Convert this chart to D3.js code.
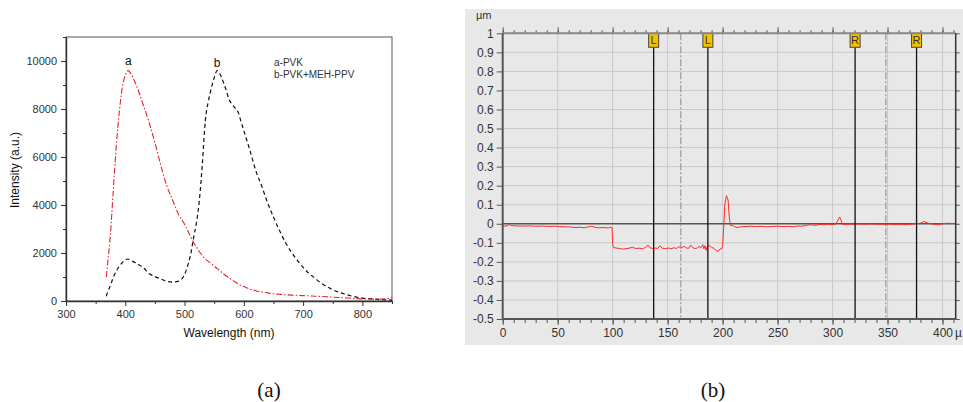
<!DOCTYPE html>
<html>
<head>
<meta charset="utf-8">
<script src="https://cdn.jsdelivr.net/npm/d3@7"></script>
<style>
  body { margin: 0; background: #fff; }
  svg { display: block; }
</style>
</head>
<body>
<svg id="chart"></svg>
<script>
/* ---- Panel (a): PL spectra ---- */
var wavelength = [368, 370, 375, 380, 385, 390, 395, 400, 405, 410, 415, 420, 430, 440, 450, 460, 470, 480, 490, 500,
    505, 510, 515, 520, 525, 530, 535, 540, 545, 550, 555, 560, 565, 570, 575, 580, 585, 590, 595, 600,
    610, 620, 630, 640, 650, 660, 670, 680, 690, 700, 710, 720, 730, 740, 750, 760, 770, 780, 790, 800,
    810, 820, 830, 840, 845, 850]
var pvk = [1000, 1500, 2800, 4700, 6500, 7900, 8900, 9400, 9600, 9450, 9200, 8900, 8200, 7450, 6600, 5650, 4800, 4200, 3600, 3200,
    2950, 2700, 2450, 2250, 2050, 1900, 1750, 1650, 1560, 1450, 1350, 1250, 1150, 1050, 960, 880, 800, 720, 650, 600,
    500, 430, 380, 340, 300, 280, 260, 245, 235, 225, 215, 200, 190, 175, 160, 145, 130, 115, 100, 90,
    85, 80, 80, 95, 110, 150]
var pvkMeh = [200, 350, 650, 1000, 1250, 1450, 1600, 1720, 1750, 1680, 1620, 1550, 1400, 1150, 1020, 920, 820, 790, 830, 1100,
    1450, 1900, 2600, 3250, 4200, 5700, 7500, 8300, 8850, 9300, 9600, 9450, 9150, 8800, 8400, 8200, 8050, 7900, 7500, 7100,
    6300, 5450, 4800, 4100, 3500, 2950, 2450, 2050, 1700, 1400, 1150, 950, 750, 600, 470, 370, 290, 220, 160, 120,
    95, 80, 65, 50, 45, 40]
var specXTicks = [300, 400, 500, 600, 700, 800]
var specXMinor = [350, 450, 550, 650, 750, 850]
var specYTicks = [0, 2000, 4000, 6000, 8000, 10000]
var specYMinor = [1000, 3000, 5000, 7000, 9000, 11000]
var specLegend = ["a-PVK", "b-PVK+MEH-PPV"]

/* ---- Panel (b): surface profile ---- */
var profileX = [0, 3, 6, 8, 12, 18, 25, 30, 36, 42, 48, 52, 58, 62, 66, 70, 74, 78, 81, 84,
    88, 92, 96, 98, 99.5, 100, 101, 104, 107, 110, 113, 116, 118, 121, 124, 127, 130, 132, 134, 137,
    139, 141, 143, 145, 148, 151, 153, 156, 158, 160, 162, 165, 167, 169, 171, 173, 175, 177, 179, 180,
    182, 183, 184, 185, 186, 188, 190, 192, 194, 196, 198, 199, 200, 201, 202, 203.5, 205, 206, 207, 209,
    211, 213, 215, 218, 222, 226, 230, 235, 240, 245, 250, 255, 260, 265, 268, 272, 276, 280, 284, 288,
    292, 296, 300, 303, 305, 306.5, 308, 309, 312, 316, 320, 324, 328, 332, 336, 340, 344, 348, 352, 356,
    360, 364, 368, 372, 376, 380, 383, 385, 388, 392, 396, 399, 402, 405, 408, 411]
var profileY = [-0.012, -0.012, -0.005, -0.010, -0.011, -0.012, -0.011, -0.013, -0.012, -0.014, -0.013, -0.015, -0.016, -0.017, -0.020, -0.018, -0.021, -0.016, -0.013, -0.019,
    -0.021, -0.020, -0.022, -0.018, -0.020, -0.110, -0.125, -0.128, -0.131, -0.133, -0.130, -0.127, -0.123, -0.130, -0.128, -0.132, -0.124, -0.112, -0.126, -0.131,
    -0.127, -0.130, -0.115, -0.128, -0.131, -0.127, -0.131, -0.126, -0.130, -0.120, -0.128, -0.118, -0.127, -0.129, -0.112, -0.126, -0.130, -0.127, -0.118, -0.128,
    -0.110, -0.132, -0.115, -0.140, -0.120, -0.113, -0.125, -0.128, -0.140, -0.145, -0.130, -0.133, -0.118, -0.020, 0.100, 0.148, 0.125, 0.040, -0.008, -0.010,
    -0.015, -0.020, -0.017, -0.015, -0.014, -0.013, -0.015, -0.014, -0.016, -0.015, -0.013, -0.015, -0.014, -0.016, -0.012, -0.013, -0.008, -0.005, -0.008, -0.004,
    -0.005, -0.003, -0.004, -0.002, 0.020, 0.036, 0.015, -0.004, -0.003, -0.002, -0.003, -0.001, -0.003, -0.002, -0.001, -0.003, -0.002, -0.004, -0.002, -0.005,
    -0.004, -0.003, -0.004, -0.002, -0.001, 0.003, 0.012, 0.008, 0.001, -0.002, -0.006, -0.001, 0.001, 0.003, 0.001, 0.002]
var profXTicks = [0, 50, 100, 150, 200, 250, 300, 350, 400]
var profYTicks = [1, 0.9, 0.8, 0.7, 0.6, 0.5, 0.4, 0.3, 0.2, 0.1, 0, -0.1, -0.2, -0.3, -0.4, -0.5]
var cursorL = [137.3, 186.6]
var cursorR = [320.5, 376.4]
var captions = ["(a)", "(b)"]

var width = 963
var height = 402
var sans = "'Liberation Sans', Arial, sans-serif"

var svg = d3.select("#chart")
    .attr("width", width)
    .attr("height", height)

svg.append("rect")
    .attr("width", width)
    .attr("height", height)
    .attr("fill", "#fff")

/* ================= Panel (a) ================= */
var ax = d3.scaleLinear().domain([300, 850]).range([66, 392])
var ay = d3.scaleLinear().domain([0, 11000]).range([301, 37])

var gA = svg.append("g").attr("font-family", sans)

/* frame */
gA.append("rect")
    .attr("x", ax(300))
    .attr("y", ay(11000))
    .attr("width", ax(850) - ax(300))
    .attr("height", ay(0) - ay(11000))
    .attr("fill", "none")
    .attr("stroke", "#555")
    .attr("stroke-width", 1)

/* axes */
function styleAxis(g) {
    g.select(".domain").attr("stroke", "#333").attr("stroke-width", 1.4)
    g.selectAll(".tick line").attr("stroke", "#333")
    g.selectAll(".tick text").attr("fill", "#333").attr("font-size", 11).attr("font-family", sans)
}

gA.append("g")
    .attr("transform", "translate(0," + ay(0) + ")")
    .call(d3.axisBottom(ax).tickValues(specXTicks).tickSize(5).tickSizeOuter(0).tickPadding(4))
    .call(styleAxis)

gA.append("g")
    .attr("transform", "translate(0," + ay(0) + ")")
    .call(d3.axisBottom(ax).tickValues(specXMinor).tickSize(3).tickFormat(""))
    .call((g) => g.select(".domain").remove())
    .selectAll("line").attr("stroke", "#333")

gA.append("g")
    .attr("transform", "translate(" + ax(300) + ",0)")
    .call(d3.axisLeft(ay).tickValues(specYTicks).tickSize(5).tickSizeOuter(0).tickPadding(4).tickFormat(d3.format("d")))
    .call(styleAxis)

gA.append("g")
    .attr("transform", "translate(" + ax(300) + ",0)")
    .call(d3.axisLeft(ay).tickValues(specYMinor).tickSize(3).tickFormat(""))
    .call((g) => g.select(".domain").remove())
    .selectAll("line").attr("stroke", "#333")

/* axis titles */
gA.append("text")
    .attr("x", 229)
    .attr("y", 337)
    .attr("text-anchor", "middle")
    .attr("font-size", 12)
    .attr("fill", "#111")
    .text("Wavelength (nm)")

gA.append("text")
    .attr("transform", "translate(19,170) rotate(-90)")
    .attr("text-anchor", "middle")
    .attr("font-size", 12)
    .attr("fill", "#111")
    .text("Intensity (a.u.)")

/* curves */
var specLine = (vals) => d3.line()
    .x((d, i) => ax(wavelength[i]))
    .y((d) => ay(d))
    .curve(d3.curveMonotoneX)(vals)

gA.append("path")
    .attr("d", specLine(pvkMeh))
    .attr("fill", "none")
    .attr("stroke", "#111")
    .attr("stroke-width", 1.2)
    .attr("stroke-dasharray", "4,3")

gA.append("path")
    .attr("d", specLine(pvk))
    .attr("fill", "none")
    .attr("stroke", "#e3232b")
    .attr("stroke-width", 1.1)
    .attr("stroke-dasharray", "6,2,1.5,2")

/* peak labels */
var peakA = d3.maxIndex(pvk)
var peakB = d3.maxIndex(pvkMeh)
gA.append("text")
    .attr("x", ax(wavelength[peakA]))
    .attr("y", ay(pvk[peakA]) - 6)
    .attr("text-anchor", "middle")
    .attr("font-size", 12)
    .attr("fill", "#111")
    .text("a")
gA.append("text")
    .attr("x", ax(wavelength[peakB]))
    .attr("y", ay(pvkMeh[peakB]) - 4)
    .attr("text-anchor", "middle")
    .attr("font-size", 12)
    .attr("fill", "#111")
    .text("b")

/* legend */
gA.selectAll(".legend")
    .data(specLegend)
    .enter()
        .append("text")
            .attr("x", 274)
            .attr("y", (d, i) => 66 + i * 12)
            .attr("font-size", 10)
            .attr("fill", "#333")
            .text((d) => d)

/* ================= Panel (b) ================= */
var px = d3.scaleLinear().domain([0, 412]).range([502.7, 955.7])
var py = d3.scaleLinear().domain([-0.5, 1]).range([319, 33.3])

var gB = svg.append("g").attr("font-family", sans)

gB.append("rect")
    .attr("x", 465)
    .attr("y", 9)
    .attr("width", 498)
    .attr("height", 336)
    .attr("fill", "#e8e8e8")

/* grid */
gB.append("g")
    .selectAll("line")
    .data(profYTicks.filter((d) => d !== 0 && d !== 1 && d !== -0.5))
    .enter()
        .append("line")
            .attr("x1", px(0))
            .attr("x2", px(412))
            .attr("y1", (d) => py(d))
            .attr("y2", (d) => py(d))
            .attr("stroke", "#cacaca")
            .attr("stroke-width", 1)

gB.append("g")
    .selectAll("line")
    .data(profXTicks.filter((d) => d !== 0))
    .enter()
        .append("line")
            .attr("x1", (d) => px(d))
            .attr("x2", (d) => px(d))
            .attr("y1", py(1))
            .attr("y2", py(-0.5))
            .attr("stroke", "#cacaca")
            .attr("stroke-width", 1)

/* zero line */
gB.append("line")
    .attr("x1", px(0))
    .attr("x2", px(412))
    .attr("y1", py(0))
    .attr("y2", py(0))
    .attr("stroke", "#555")
    .attr("stroke-width", 1.6)

/* cursor centre lines */
gB.append("g")
    .selectAll("line")
    .data([d3.mean(cursorL), d3.mean(cursorR)])
    .enter()
        .append("line")
            .attr("x1", (d) => px(d))
            .attr("x2", (d) => px(d))
            .attr("y1", py(1))
            .attr("y2", py(-0.5))
            .attr("stroke", "#999")
            .attr("stroke-width", 1.2)
            .attr("stroke-dasharray", "7,2,2,2")

/* profile */
gB.append("path")
    .datum(profileY)
    .attr("d", d3.line()
        .x((d, i) => px(profileX[i]))
        .y((d) => py(d)))
    .attr("fill", "none")
    .attr("stroke", "#ff2a2a")
    .attr("stroke-width", 1)

/* cursors */
var cursors = cursorL.map((d) => ({ v: d, t: "L" })).concat(cursorR.map((d) => ({ v: d, t: "R" })))

var cur = gB.append("g")
    .selectAll("g")
    .data(cursors)
    .enter()
        .append("g")

cur.append("line")
    .attr("x1", (d) => px(d.v))
    .attr("x2", (d) => px(d.v))
    .attr("y1", py(1) + 14)
    .attr("y2", py(-0.5))
    .attr("stroke", "#111")
    .attr("stroke-width", 1.3)

/* axes */
function styleProf(g) {
    g.select(".domain").remove()
    g.selectAll(".tick line").attr("stroke", "#555")
    g.selectAll(".tick text").attr("fill", "#333").attr("font-size", 12).attr("font-family", sans)
}

var yFmt = (d) => String(+d.toFixed(1))

gB.append("g")
    .attr("transform", "translate(0," + py(1) + ")")
    .call(d3.axisTop(px).tickValues(d3.range(0, 412, 10)).tickSize(3).tickFormat(""))
    .call(styleProf)
gB.append("g")
    .attr("transform", "translate(0," + py(1) + ")")
    .call(d3.axisTop(px).tickValues(profXTicks).tickSize(6).tickFormat(""))
    .call(styleProf)

gB.append("g")
    .attr("transform", "translate(0," + py(-0.5) + ")")
    .call(d3.axisBottom(px).tickValues(d3.range(0, 412, 10)).tickSize(4).tickFormat(""))
    .call(styleProf)
gB.append("g")
    .attr("transform", "translate(0," + py(-0.5) + ")")
    .call(d3.axisBottom(px).tickValues(profXTicks).tickSize(6).tickPadding(3))
    .call(styleProf)

gB.append("g")
    .attr("transform", "translate(" + px(0) + ",0)")
    .call(d3.axisLeft(py).tickValues(profYTicks).tickSize(6).tickPadding(3).tickFormat(yFmt))
    .call(styleProf)

gB.append("g")
    .attr("transform", "translate(" + px(412) + ",0)")
    .call(d3.axisRight(py).tickValues(profYTicks).tickSize(4).tickFormat(""))
    .call(styleProf)

/* axis lines */
gB.append("line")
    .attr("x1", px(0)).attr("x2", px(412))
    .attr("y1", py(1)).attr("y2", py(1))
    .attr("stroke", "#888").attr("stroke-width", 2)
gB.append("line")
    .attr("x1", px(0)).attr("x2", px(412))
    .attr("y1", py(-0.5)).attr("y2", py(-0.5))
    .attr("stroke", "#555").attr("stroke-width", 2)
gB.append("line")
    .attr("x1", px(0)).attr("x2", px(0))
    .attr("y1", py(1)).attr("y2", py(-0.5))
    .attr("stroke", "#555").attr("stroke-width", 2)
gB.append("line")
    .attr("x1", px(412)).attr("x2", px(412))
    .attr("y1", py(1)).attr("y2", py(-0.5))
    .attr("stroke", "#333").attr("stroke-width", 1.5)

/* cursor flags */
cur.append("rect")
    .attr("x", (d) => px(d.v) - 5)
    .attr("y", py(1))
    .attr("width", 10)
    .attr("height", 14)
    .attr("fill", "#f5c000")
    .attr("stroke", "#444")
    .attr("stroke-width", 1)

cur.append("text")
    .attr("x", (d) => px(d.v))
    .attr("y", py(1) + 11)
    .attr("text-anchor", "middle")
    .attr("font-size", 11)
    .attr("fill", "#333")
    .text((d) => d.t)

/* units */
gB.append("text")
    .attr("x", 476)
    .attr("y", 19)
    .attr("font-size", 11)
    .attr("fill", "#333")
    .text("µm")

gB.append("text")
    .attr("x", 962)
    .attr("y", py(-0.5) + 18)
    .attr("text-anchor", "end")
    .attr("font-size", 12)
    .attr("fill", "#333")
    .text("µ")

/* captions */
svg.selectAll(".caption")
    .data(captions)
    .enter()
        .append("text")
            .attr("x", (d, i) => i === 0 ? 269 : 713)
            .attr("y", 397)
            .attr("text-anchor", "middle")
            .attr("font-family", "'Liberation Serif', 'Times New Roman', serif")
            .attr("font-size", 21)
            .attr("fill", "#111")
            .text((d) => d)
</script>
</body>
</html>
